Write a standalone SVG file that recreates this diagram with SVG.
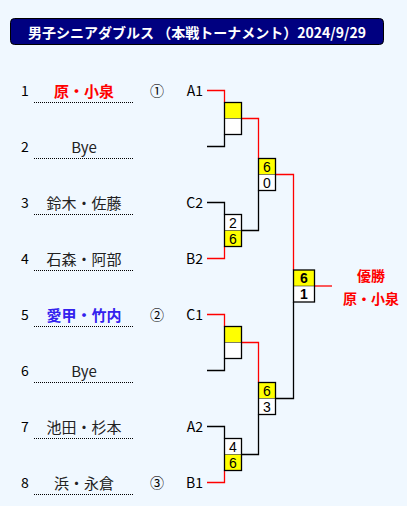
<svg xmlns="http://www.w3.org/2000/svg" width="407" height="506" viewBox="0 0 407 506">
<style>
text{font-family:"Noto Sans CJK JP","Liberation Sans",sans-serif;font-size:14px;fill:#222;dominant-baseline:central}
.num{text-anchor:middle;fill:#000}
.name{text-anchor:middle;font-size:15px}
.seed{text-anchor:middle;fill:#000}
.lab{text-anchor:end;fill:#000}
.win{fill:#f00;font-weight:bold}
.blue{fill:#3322ee;font-weight:bold}
.ul{stroke:#000;stroke-width:1;stroke-dasharray:1 1}
.bk{fill:none;stroke:#000;stroke-width:1.3}
.rd{fill:none;stroke:#f00;stroke-width:1.3}
.box{stroke:#000;stroke-width:1.3}
.div{stroke:#000;stroke-width:1;stroke-dasharray:1 1}
.sc{text-anchor:middle;font-family:"Liberation Sans",Arial,sans-serif;font-size:14px;fill:#000}
</style>
<rect x="0" y="0" width="407" height="506" fill="#f0f8ff"/>
<g id="title">
<rect x="10.5" y="18.5" width="373" height="26" rx="4" fill="#000080" stroke="#000"/>
<text x="197" y="31.5" style="fill:#fff;font-weight:bold;font-size:14px;text-anchor:middle">男子シニアダブルス （本戦トーナメント）2024/9/29</text>
</g>
<g id="entries">
<g id="e1"><text class="num" x="25" y="90">1</text><text class="name win" x="84" y="90">原・小泉</text><line class="ul" x1="34" y1="102.5" x2="133" y2="102.5"/><text class="seed" x="157" y="90">①</text><text class="lab" x="203" y="90">A1</text></g>
<g id="e2"><text class="num" x="25" y="146">2</text><text class="name" x="84" y="146">Bye</text><line class="ul" x1="34" y1="158.5" x2="133" y2="158.5"/></g>
<g id="e3"><text class="num" x="25" y="202">3</text><text class="name" x="84" y="202">鈴木・佐藤</text><line class="ul" x1="34" y1="214.5" x2="133" y2="214.5"/><text class="lab" x="203" y="202">C2</text></g>
<g id="e4"><text class="num" x="25" y="258">4</text><text class="name" x="84" y="258">石森・阿部</text><line class="ul" x1="34" y1="270.5" x2="133" y2="270.5"/><text class="lab" x="203" y="258">B2</text></g>
<g id="e5"><text class="num" x="25" y="314">5</text><text class="name blue" x="84" y="314">愛甲・竹内</text><line class="ul" x1="34" y1="326.5" x2="133" y2="326.5"/><text class="seed" x="157" y="314">②</text><text class="lab" x="203" y="314">C1</text></g>
<g id="e6"><text class="num" x="25" y="370">6</text><text class="name" x="84" y="370">Bye</text><line class="ul" x1="34" y1="382.5" x2="133" y2="382.5"/></g>
<g id="e7"><text class="num" x="25" y="426">7</text><text class="name" x="84" y="426">池田・杉本</text><line class="ul" x1="34" y1="438.5" x2="133" y2="438.5"/><text class="lab" x="203" y="426">A2</text></g>
<g id="e8"><text class="num" x="25" y="482">8</text><text class="name" x="84" y="482">浜・永倉</text><line class="ul" x1="34" y1="494.5" x2="133" y2="494.5"/><text class="seed" x="157" y="482">③</text><text class="lab" x="203" y="482">B1</text></g>
</g>
<g id="connectors">
<polyline class="rd" points="207,90.5 224.5,90.5 224.5,102.5"/>
<polyline class="bk" points="207,146.5 224.5,146.5 224.5,134.5"/>
<polyline class="rd" points="241.5,118.5 258.5,118.5 258.5,158.5"/>
<polyline class="bk" points="207,202.5 224.5,202.5 224.5,214.5"/>
<polyline class="rd" points="207,258.5 224.5,258.5 224.5,246.5"/>
<polyline class="bk" points="241.5,230.5 258.5,230.5 258.5,190.5"/>
<polyline class="rd" points="275.5,174.5 293.5,174.5 293.5,270"/>
<polyline class="rd" points="207,314.5 224.5,314.5 224.5,326.5"/>
<polyline class="bk" points="207,370.5 224.5,370.5 224.5,358.5"/>
<polyline class="rd" points="241.5,342.5 258.5,342.5 258.5,382.5"/>
<polyline class="bk" points="207,426.5 224.5,426.5 224.5,438.5"/>
<polyline class="rd" points="207,482.5 224.5,482.5 224.5,470.5"/>
<polyline class="bk" points="241.5,454.5 258.5,454.5 258.5,414.5"/>
<polyline class="bk" points="275.5,398.5 293.5,398.5 293.5,302"/>
<line class="rd" x1="314.5" y1="286" x2="332" y2="286"/>
</g>
<g id="m1"><rect x="224.5" y="102.5" width="17" height="16" fill="#ffff00"/><rect x="224.5" y="118.5" width="17" height="16" fill="#fff"/><rect class="box" x="224.5" y="102.5" width="17" height="32" fill="none"/><line class="div" x1="224.5" y1="118.5" x2="241.5" y2="118.5"/></g>
<g id="m2"><rect x="224.5" y="214.5" width="17" height="16" fill="#fff"/><rect x="224.5" y="230.5" width="17" height="16" fill="#ffff00"/><rect class="box" x="224.5" y="214.5" width="17" height="32" fill="none"/><line class="div" x1="224.5" y1="230.5" x2="241.5" y2="230.5"/><text class="sc" x="233" y="222.5">2</text><text class="sc" x="233" y="238.5">6</text></g>
<g id="m3"><rect x="224.5" y="326.5" width="17" height="16" fill="#ffff00"/><rect x="224.5" y="342.5" width="17" height="16" fill="#fff"/><rect class="box" x="224.5" y="326.5" width="17" height="32" fill="none"/><line class="div" x1="224.5" y1="342.5" x2="241.5" y2="342.5"/></g>
<g id="m4"><rect x="224.5" y="438.5" width="17" height="16" fill="#fff"/><rect x="224.5" y="454.5" width="17" height="16" fill="#ffff00"/><rect class="box" x="224.5" y="438.5" width="17" height="32" fill="none"/><line class="div" x1="224.5" y1="454.5" x2="241.5" y2="454.5"/><text class="sc" x="233" y="446.5">4</text><text class="sc" x="233" y="462.5">6</text></g>
<g id="s1"><rect x="258.5" y="158.5" width="17" height="16" fill="#ffff00"/><rect x="258.5" y="174.5" width="17" height="16" fill="#fff"/><rect class="box" x="258.5" y="158.5" width="17" height="32" fill="none"/><line class="div" x1="258.5" y1="174.5" x2="275.5" y2="174.5"/><text class="sc" x="267" y="166.5">6</text><text class="sc" x="267" y="182.5">0</text></g>
<g id="s2"><rect x="258.5" y="382.5" width="17" height="16" fill="#ffff00"/><rect x="258.5" y="398.5" width="17" height="16" fill="#fff"/><rect class="box" x="258.5" y="382.5" width="17" height="32" fill="none"/><line class="div" x1="258.5" y1="398.5" x2="275.5" y2="398.5"/><text class="sc" x="267" y="390.5">6</text><text class="sc" x="267" y="406.5">3</text></g>
<g id="final"><rect x="293.5" y="270" width="21" height="16" fill="#ffff00"/><rect x="293.5" y="286" width="21" height="16" fill="#fff"/><rect class="box" x="293.5" y="270" width="21" height="32" fill="none"/><line class="div" x1="293.5" y1="286" x2="314.5" y2="286"/><text class="sc" x="304" y="278" style="font-weight:bold">6</text><text class="sc" x="304" y="294" style="font-weight:bold">1</text></g>
<g id="winner"><text class="win" x="371" y="275" style="text-anchor:middle">優勝</text><text class="win" x="371" y="298" style="text-anchor:middle">原・小泉</text></g>
</svg>
